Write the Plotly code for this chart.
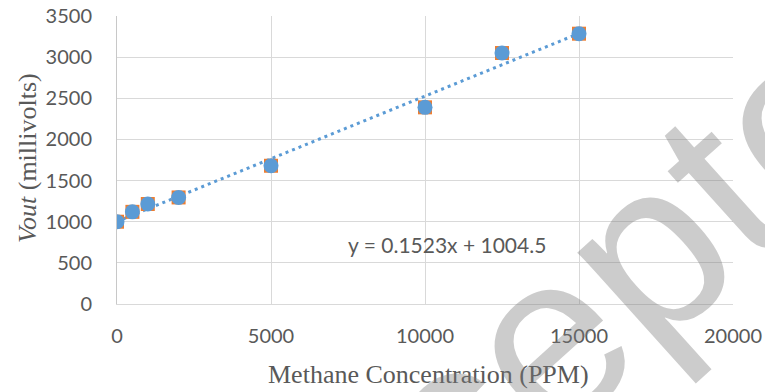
import numpy as np
import plotly.graph_objects as go

# Data
concentration_ppm = [0, 500, 1000, 2000, 5000, 10000, 12500, 15000]
vout_mv = [1000, 1120, 1215, 1295, 1680, 2390, 3050, 3285]

x_ticks = [0, 5000, 10000, 15000, 20000]
y_ticks = [0, 500, 1000, 1500, 2000, 2500, 3000, 3500]

equation_label = "y = 0.1523x + 1004.5"
x_title = "Methane Concentration (PPM)"
y_title = "<i>Vout</i> (millivolts)"
watermark = "Accepted"

# Linear least-squares trendline through the data
slope, intercept = np.polyfit(concentration_ppm, vout_mv, 1)
trend_x = [min(concentration_ppm), max(concentration_ppm)]
trend_y = [slope * v + intercept for v in trend_x]

BLUE = "#5B9BD5"
ORANGE = "#ED7D31"
GRID = "#D9D9D9"
TXT = "#595959"
TICKFONT = dict(family="Lato", size=20, color=TXT)

L, R, T, B = 117, 32, 16, 88
PW, PH = 765 - L - R, 392 - T - B


def px(xp):
    return (xp - L) / PW


def py(yp):
    return (392 - B - yp) / PH


fig = go.Figure()
fig.add_trace(go.Scatter(
    x=trend_x, y=trend_y, mode="lines",
    line=dict(color=BLUE, width=3, dash="3px,4px"),
    hoverinfo="skip", showlegend=False))
fig.add_trace(go.Scatter(
    x=concentration_ppm, y=vout_mv, mode="markers",
    marker=dict(symbol="square", size=14, color=ORANGE),
    showlegend=False))
fig.add_trace(go.Scatter(
    x=concentration_ppm, y=vout_mv, mode="markers",
    marker=dict(symbol="circle", size=15, color=BLUE),
    showlegend=False))

fig.update_layout(
    width=765, height=392,
    margin=dict(l=L, r=R, t=T, b=B, autoexpand=False),
    paper_bgcolor="white", plot_bgcolor="white",
    xaxis=dict(range=[0, 20000], tickvals=x_ticks, ticktext=[str(v) for v in x_ticks],
               showgrid=True, gridcolor=GRID, gridwidth=1, zeroline=False,
               showline=True, linecolor=GRID, linewidth=1, mirror=False,
               ticks="", tickfont=TICKFONT, ticklabelstandoff=14, automargin=False),
    yaxis=dict(range=[0, 3500], tickvals=y_ticks, ticktext=[str(v) for v in y_ticks],
               showgrid=True, gridcolor=GRID, gridwidth=1, zeroline=False,
               showline=True, linecolor="#C8C8C8", linewidth=1,
               ticks="", tickfont=TICKFONT, ticklabelstandoff=20, automargin=False),
    annotations=[
        dict(x=10730, y=728, xref="x", yref="y", text=equation_label, showarrow=False,
             font=dict(family="Lato", size=21, color=TXT), xanchor="center", yanchor="middle"),
        dict(x=px(428), y=py(374), xref="paper", yref="paper",
             text=x_title, showarrow=False,
             font=dict(family="Liberation Serif", size=26, color=TXT),
             xanchor="center", yanchor="middle"),
        dict(x=px(27), y=py(158), xref="paper", yref="paper",
             text=y_title, showarrow=False, textangle=-90,
             font=dict(family="Liberation Serif", size=26, color=TXT),
             xanchor="center", yanchor="middle"),
        dict(x=px(570), y=py(318), xref="paper", yref="paper",
             text=watermark, showarrow=False, textangle=-42,
             font=dict(family="Liberation Sans", size=240, color="rgba(120,120,120,0.38)"),
             xanchor="center", yanchor="middle"),
    ],
)

fig.write_html("out.html")
